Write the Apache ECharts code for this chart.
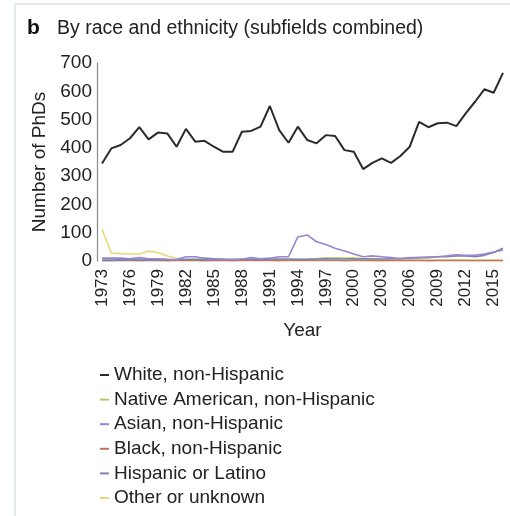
<!DOCTYPE html>
<html>
<head>
<meta charset="utf-8">
<script src="https://cdn.jsdelivr.net/npm/echarts@6/dist/echarts.min.js"></script>
<style>
  html, body { margin: 0; padding: 0; background: #ffffff; }
  #chart { width: 510px; height: 516px; }
</style>
</head>
<body>
<div id="chart"></div>
<script>
// Years 1973–2016
const years = [];
for (let y = 1973; y <= 2016; y++) years.push(String(y));

const seriesNames = [
  'White, non-Hispanic',
  'Native American, non-Hispanic',
  'Asian, non-Hispanic',
  'Black, non-Hispanic',
  'Hispanic or Latino',
  'Other or unknown'
];

const white = [345, 398, 410, 434, 473, 430, 454, 451, 404, 467,
               422, 425, 404, 386, 386, 457, 460, 475, 548, 463,
               418, 475, 428, 416, 445, 442, 392, 386, 325, 347,
               363, 347, 371, 404, 492, 473, 487, 489, 477, 522,
               563, 607, 595, 665];

const nativeAmerican = [2, 2, 2, 2, 3, 2, 2, 2, 2, 2,
                        2, 2, 2, 2, 2, 3, 3, 2, 3, 3,
                        3, 3, 5, 8, 10, 10, 8, 6, 3, 2,
                        2, 2, 2, 2, 2, 2, 2, 2, 2, 2,
                        2, 2, 2, 2];

const asian = [10, 10, 10, 8, 12, 8, 8, 6, 5, 15,
               15, 10, 8, 6, 5, 6, 12, 8, 10, 15,
               15, 85, 92, 68, 58, 45, 35, 25, 15, 18,
               15, 12, 8, 12, 12, 14, 15, 18, 22, 20,
               20, 25, 32, 38];

const black = [1, 1, 2, 2, 1, 2, 2, 1, 2, 2,
               2, 1, 2, 2, 1, 2, 2, 2, 2, 1,
               2, 2, 2, 2, 2, 2, 1, 2, 2, 2,
               1, 2, 2, 2, 2, 1, 2, 2, 2, 2,
               2, 2, 2, 2];

const hispanic = [3, 3, 4, 5, 5, 4, 5, 5, 4, 6,
                  5, 5, 5, 6, 5, 6, 6, 5, 6, 7,
                  7, 6, 6, 7, 8, 7, 8, 8, 8, 8,
                  7, 8, 9, 10, 12, 12, 15, 15, 18, 18,
                  15, 20, 30, 45];

const other = [112, 28, 26, 25, 25, 35, 30, 18, 10, 5,
               8, 10, 8, 6, 5, 8, 6, 6, 8, 5,
               5, 5, 5, 8, 10, 10, 10, 12, 8, 5,
               5, 3, 4, 3, 3, 3, 3, 3, 3, 2,
               2, 2, 2, 2];

const yTicks = [0, 100, 200, 300, 400, 500, 600, 700];

const colors = ['#2b2b2b', '#c2c070', '#9a84d2', '#c4735a', '#7387b0', '#ead77a'];
const values = [white, nativeAmerican, asian, black, hispanic, other];

const FONT = '"Liberation Sans", Arial, Helvetica, sans-serif';

const chart = echarts.init(document.getElementById('chart'), null, { renderer: 'canvas' });

// draw the small groups first so the dominant line sits on top
const drawOrder = [5, 1, 3, 4, 2, 0];
const series = drawOrder.map(i => ({
  name: seriesNames[i],
  type: 'line',
  data: values[i],
  showSymbol: false,
  symbol: 'none',
  smooth: false,
  z: i === 0 ? 5 : 3,
  lineStyle: { color: colors[i], width: i === 0 ? 2 : 1.6 },
  itemStyle: { color: colors[i] }
}));

chart.setOption({
  animation: false,
  backgroundColor: '#ffffff',
  textStyle: { fontFamily: FONT },
  graphic: [{
    type: 'rect',
    shape: { x: 15, y: 4, width: 520, height: 540 },
    style: { fill: 'none', stroke: '#d6e2ea', lineWidth: 1.5 },
    silent: true
  }],
  title: {
    left: 22,
    top: 13,
    text: '{b|b}{t|By race and ethnicity (subfields combined)}',
    textStyle: {
      fontWeight: 'normal',
      rich: {
        b: { fontFamily: FONT, fontWeight: 'bold', fontSize: 21, color: '#111', width: 30 },
        t: { fontFamily: FONT, fontWeight: 'normal', fontSize: 19.5, color: '#222' }
      }
    }
  },
  legend: {
    data: seriesNames,
    orient: 'vertical',
    left: 95,
    top: 360,
    icon: 'rect',
    itemWidth: 9,
    itemHeight: 2,
    itemGap: 4.6,
    textStyle: { fontFamily: FONT, fontSize: 19, lineHeight: 20, color: '#222' },
    selectedMode: false
  },
  grid: { left: 102, right: 7, top: 63, bottom: 255, containLabel: false },
  xAxis: {
    type: 'category',
    data: years,
    boundaryGap: false,
    name: 'Year',
    nameLocation: 'middle',
    nameGap: 60,
    nameTextStyle: { fontFamily: FONT, fontSize: 19, color: '#222' },
    axisLine: { show: false },
    axisTick: { show: false },
    axisLabel: {
      interval: 2,
      rotate: 90,
      margin: 8,
      fontFamily: FONT,
      fontSize: 17,
      color: '#222'
    },
    splitLine: { show: false }
  },
  yAxis: {
    type: 'value',
    min: yTicks[0],
    max: yTicks[yTicks.length - 1],
    interval: 100,
    offset: 5,
    name: 'Number of PhDs',
    nameLocation: 'middle',
    nameGap: 47,
    nameTextStyle: { fontFamily: FONT, fontSize: 19, color: '#222' },
    axisLine: { show: true, lineStyle: { color: '#8a8a8a', width: 1.2 } },
    axisTick: { show: false },
    axisLabel: { margin: 5, fontFamily: FONT, fontSize: 19, color: '#222' },
    splitLine: { show: false }
  },
  series: series
});
</script>
</body>
</html>
